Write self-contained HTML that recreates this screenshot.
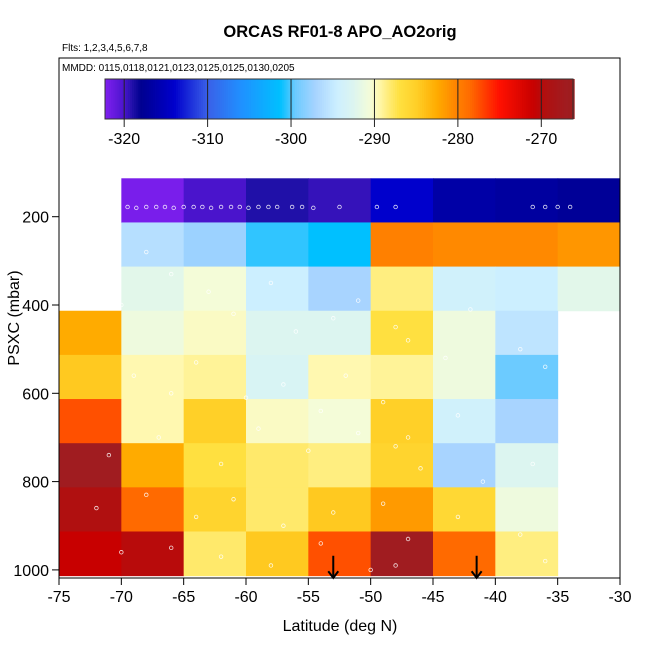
<!DOCTYPE html>
<html><head><meta charset="utf-8">
<style>
html,body{margin:0;padding:0;background:#fff;}
svg{display:block;font-family:"Liberation Sans",sans-serif;}
</style></head>
<body>
<svg id="chart" width="650" height="650" viewBox="0 0 650 650">
<text x="340" y="37" text-anchor="middle" font-size="16.5" font-weight="bold">ORCAS RF01-8 APO_AO2orig</text>
<text x="62" y="51" font-size="10">Flts: 1,2,3,4,5,6,7,8</text>
<text x="62" y="71" font-size="10">MMDD: 0115,0118,0121,0123,0125,0125,0130,0205</text>
<text x="340" y="631" text-anchor="middle" font-size="16">Latitude (deg N)</text>
<text x="0" y="0" transform="translate(19,318) rotate(-90)" text-anchor="middle" font-size="16">PSXC (mbar)</text>
<g id="cells"></g><g id="pts"></g><g id="cbar"></g><g id="axes"></g>
</svg>
<script>
const latEdges = [-75,-70,-65,-60,-55,-50,-45,-40,-35,-30];
const presEdges = [113,213,313,413,513,613,713,813,913,1013];
const row0 = [null,-322,-320,-319,-319.5,-314,-316.5,-317,-317.5];
const row1 = [null,-296,-297.5,-300.5,-301.3,-280,-280.5,-280.5,-281.3];
const row2 = [null,-292,-290.5,-294.5,-297,-288.5,-294,-294.5,-292];
const row3 = [-282.5,-291,-290,-292.5,-292.5,-287,-291,-295.5,null];
const row4 = [-284.5,-289.5,-289,-293,-289.5,-289,-291,-299.5,null];
const row5 = [-277.5,-289.5,-285,-290,-290.5,-285,-294,-297,null];
const row6 = [-267,-282.5,-287,-288,-288.5,-285.5,-297,-292.5,null];
const row7 = [-269.5,-278.5,-285.5,-288,-284.5,-281.5,-286,-291,null];
const row8 = [-271,-270,-288,-284.5,-277.5,-267,-278.5,-288.5,null];
const rows = [row0,row1,row2,row3,row4,row5,row6,row7,row8];
const xTicks = [-75,-70,-65,-60,-55,-50,-45,-40,-35,-30];
const yTicks = [200,400,600,800,1000];
const cbTicks = [-320,-310,-300,-290,-280,-270];
const cbRange = [-322.3,-266.2];
const arrowLats = [-53,-41.5];
const ptLat = [-71,-70.3,-69.5,-68.8,-68,-67.2,-66.5,-65.8,-65,-64.2,-63.5,-62.8,-62,-61.2,-60.5,-59.8,-59,-58.2,-57.5,-56.3,-55.5,-54.6,-52.5,-49.5,-48,-37,-36,-35,-34];
const ptPres = [178,178,178,180,178,178,178,180,178,178,178,180,178,178,178,180,178,178,178,178,178,180,178,178,178,178,178,178,178];
const scatLat = [-71,-68,-66,-72,-70,-63,-61,-58,-56,-53,-51,-48,-47,-44,-42,-38,-36,-69,-66,-64,-60,-57,-54,-52,-49,-47,-43,-71,-67,-62,-59,-55,-51,-48,-46,-41,-37,-72,-68,-64,-61,-57,-53,-49,-47,-43,-38,-70,-66,-62,-58,-54,-50,-48,-36];
const scatPres = [250,280,330,360,400,370,420,350,460,430,390,450,480,520,410,500,540,560,600,530,610,580,640,560,620,700,650,740,700,760,680,730,690,720,770,800,760,860,830,880,840,900,870,850,930,880,920,960,950,970,990,940,1000,990,980];

const svg = document.getElementById('chart');
const NS = 'http://www.w3.org/2000/svg';
const X = lat => 59 + (lat + 75) * (561 / 45);
const Y = p => 216.7 + (p - 200) * 0.4415;
const CB = v => 105 + (v - cbRange[0]) * (468 / (cbRange[1] - cbRange[0]));
const stops = [[-322.3,'#8020f0'],[-320,'#4a14cc'],[-319,'#2010a8'],[-318,'#000090'],[-316.5,'#0000a6'],[-314,'#0000cc'],[-310,'#3a60e8'],[-306,'#2090ff'],[-301.3,'#00c0ff'],[-299.5,'#6ccbff'],[-297,'#a8d4ff'],[-294.5,'#ccefff'],[-292.5,'#dcf5f0'],[-290.5,'#f4fcd8'],[-289.5,'#fff8b0'],[-288.5,'#ffee80'],[-287,'#ffe040'],[-285,'#ffd028'],[-282.5,'#ffab00'],[-280,'#ff8000'],[-278.5,'#ff6a00'],[-277.5,'#ff5000'],[-275,'#ff1000'],[-271,'#c80000'],[-269.5,'#b01010'],[-267,'#a01c20'],[-266.2,'#9e1c1c']];
function hex(c){return [1,3,5].map(i=>parseInt(c.substr(i,2),16));}
function cmap(v){
  if(v<=stops[0][0]) return stops[0][1];
  for(let i=1;i<stops.length;i++){
    if(v<=stops[i][0]){
      const a=hex(stops[i-1][1]), b=hex(stops[i][1]);
      const t=(v-stops[i-1][0])/(stops[i][0]-stops[i-1][0]);
      return 'rgb('+a.map((x,k)=>Math.round(x+(b[k]-x)*t)).join(',')+')';
    }
  }
  return stops[stops.length-1][1];
}
function mk(tag, attrs, parent){
  const e=document.createElementNS(NS,tag);
  for(const k in attrs) e.setAttribute(k,attrs[k]);
  parent.appendChild(e); return e;
}
const gC=document.getElementById('cells');
rows.forEach((r,ri)=>{
  r.forEach((v,ci)=>{
    if(v===null) return;
    const x0=X(latEdges[ci]), x1=X(latEdges[ci+1]), y0=Y(presEdges[ri]), y1=Y(presEdges[ri+1]);
    const e=mk('rect',{x:x0,y:y0,width:x1-x0+0.5,height:y1-y0+0.5,fill:cmap(v)},gC);
    
    
  });
});
const gP=document.getElementById('pts');
function pt(lat,p){
  const e=mk('circle',{cx:X(lat),cy:Y(p),r:1.8,fill:'none',stroke:'#fff','stroke-width':0.8,opacity:0.85},gP);
  
  
}
ptLat.forEach((l,i)=>pt(l,ptPres[i]));
scatLat.forEach((l,i)=>pt(l,scatPres[i]));
arrowLats.forEach(l=>{
  const x=X(l);
  const g=mk('g',{},gP);
  
  
  mk('line',{x1:x,y1:Y(968),x2:x,y2:Y(1018),stroke:'#000','stroke-width':2},g);
  mk('path',{d:`M${x-5},${Y(1003)} L${x},${Y(1018)} L${x+5},${Y(1003)}`,fill:'none',stroke:'#000','stroke-width':2},g);
});
const gB=document.getElementById('cbar');
for(let v=cbRange[0]; v<cbRange[1]; v+=0.25){
  mk('rect',{x:CB(v),y:79,width:CB(v+0.25)-CB(v)+0.4,height:40,fill:cmap(v+0.125)},gB);
}
const cbf=mk('rect',{x:105,y:79,width:468,height:40,fill:'none',stroke:'#333','stroke-width':1},gB);


cbTicks.forEach(v=>{
  const x=CB(v);
  mk('line',{x1:x,y1:79,x2:x,y2:127,stroke:'#222','stroke-width':1},gB);
  const t=mk('text',{x:x,y:144,'text-anchor':'middle','font-size':16},gB);
  t.textContent=v;
  
  
});
const gA=document.getElementById('axes');
const frame=mk('rect',{x:59,y:58,width:561,height:520,fill:'none',stroke:'#000','stroke-width':1},gA);


xTicks.forEach(v=>{
  const x=X(v);
  mk('line',{x1:x,y1:578,x2:x,y2:585,stroke:'#000'},gA);
  const t=mk('text',{x:x,y:602,'text-anchor':'middle','font-size':16},gA);
  t.textContent=v;
  
  
});
yTicks.forEach(v=>{
  const y=Y(v);
  mk('line',{x1:52,y1:y,x2:59,y2:y,stroke:'#000'},gA);
  const t=mk('text',{x:49,y:y+6,'text-anchor':'end','font-size':16},gA);
  t.textContent=v;
  
  
});
</script>
</body></html>
